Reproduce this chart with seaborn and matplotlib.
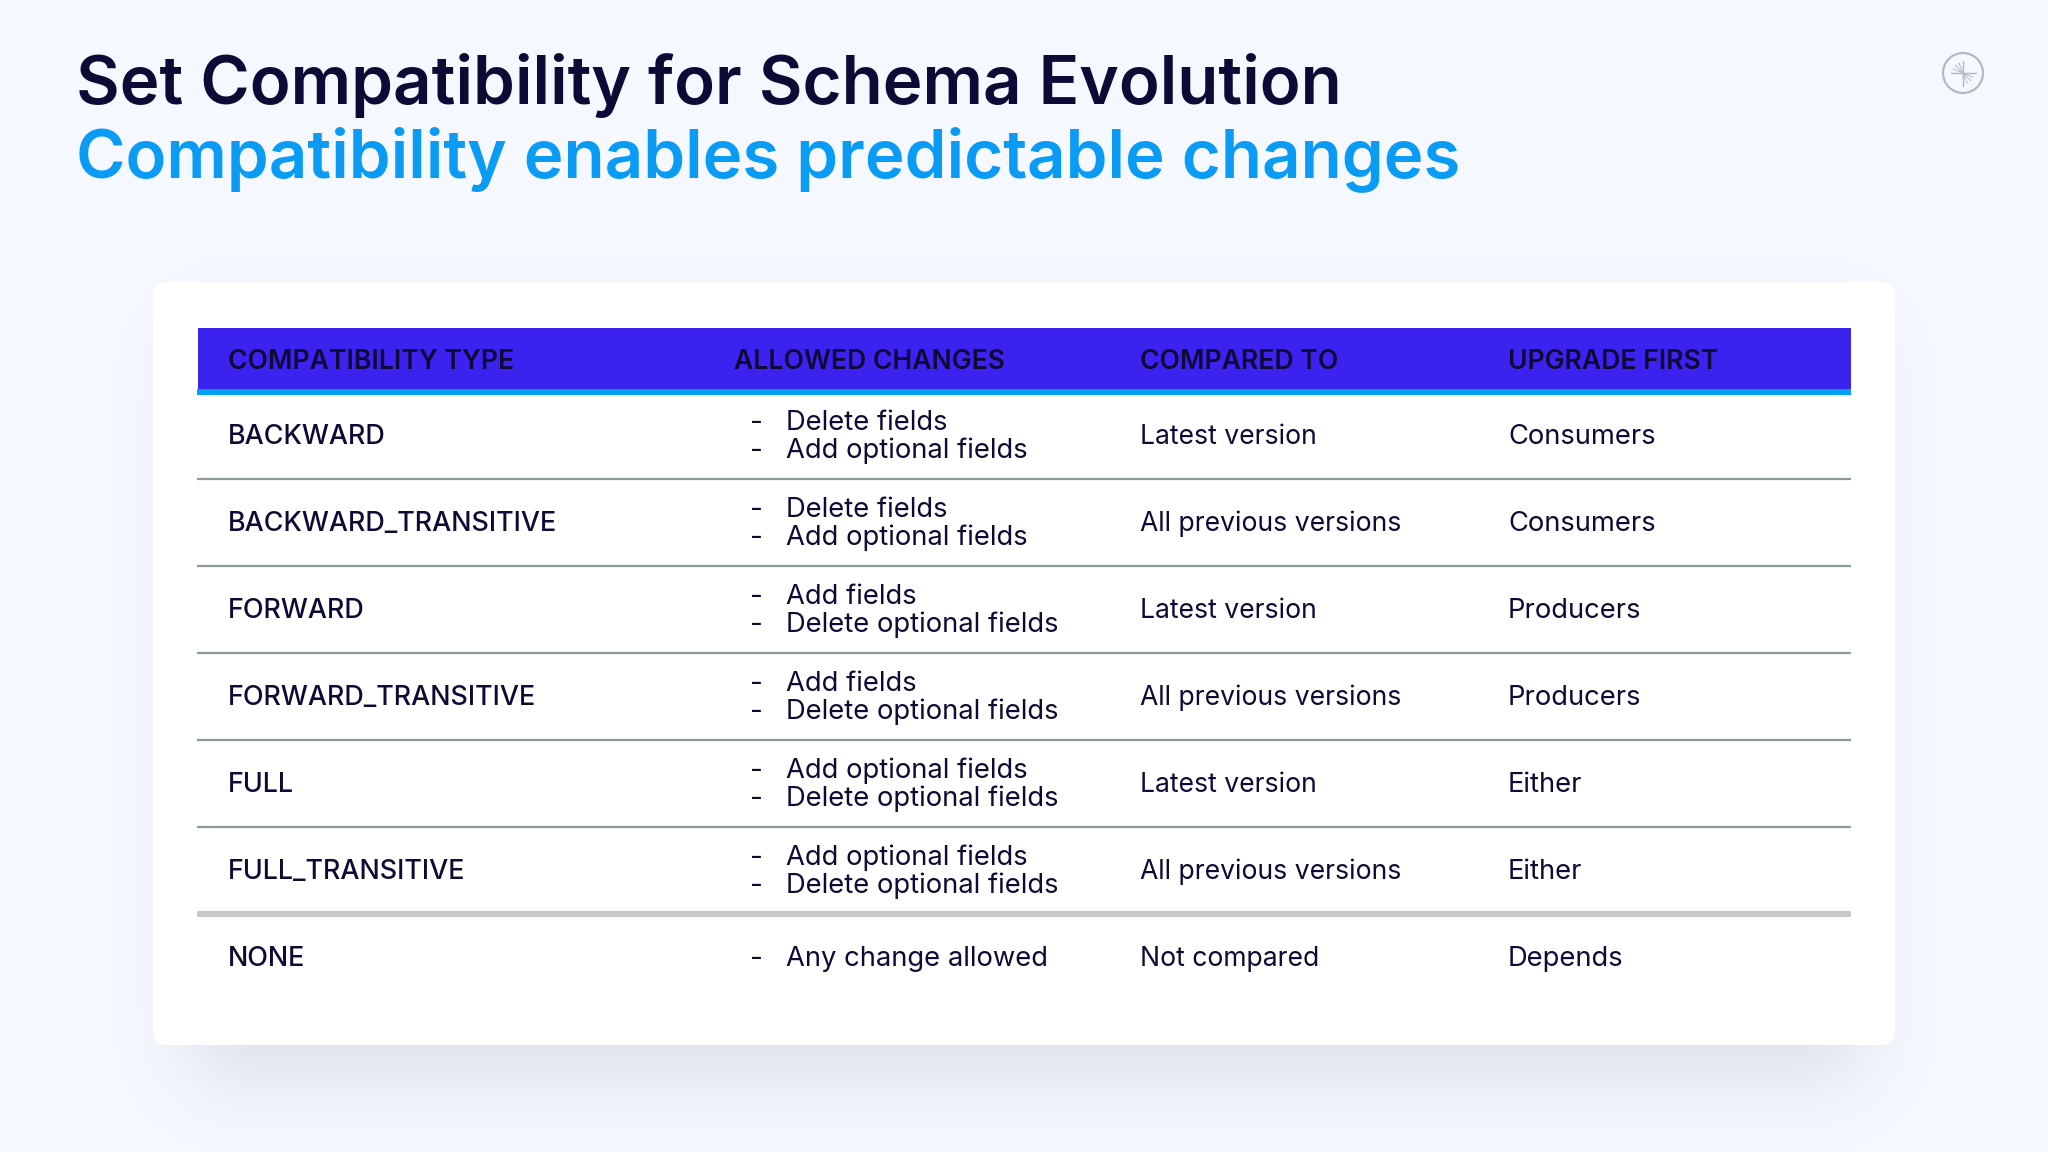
"""Slide: compatibility types table for schema evolution."""

import matplotlib

matplotlib.use("Agg")
import matplotlib.pyplot as plt
import numpy as np
import seaborn as sns
from matplotlib.patches import Circle, FancyBboxPatch, Rectangle

TITLE = "Set Compatibility for Schema Evolution"
SUBTITLE = "Compatibility enables predictable changes"

HEADERS = ["COMPATIBILITY TYPE", "ALLOWED CHANGES", "COMPARED TO", "UPGRADE FIRST"]
TYPES = [
    "BACKWARD",
    "BACKWARD_TRANSITIVE",
    "FORWARD",
    "FORWARD_TRANSITIVE",
    "FULL",
    "FULL_TRANSITIVE",
    "NONE",
]
CHANGES = [
    ["Delete fields", "Add optional fields"],
    ["Delete fields", "Add optional fields"],
    ["Add fields", "Delete optional fields"],
    ["Add fields", "Delete optional fields"],
    ["Add optional fields", "Delete optional fields"],
    ["Add optional fields", "Delete optional fields"],
    ["Any change allowed"],
]
COMPARED = [
    "Latest version",
    "All previous versions",
    "Latest version",
    "All previous versions",
    "Latest version",
    "All previous versions",
    "Not compared",
]
UPGRADE = ["Consumers", "Consumers", "Producers", "Producers", "Either", "Either", "Depends"]

BG = "#f6f8ff"
DARK = "#0c0b36"
BLUE = "#0a9bf5"
PURPLE = "#3c22ee"
FONT = "Inter"

COL_X = [228, 734, 1140, 1508]
ROW_Y = [437, 524, 611, 698, 785, 872, 959]


def gauss_edge(coords, start, stop, sigma):
    # soft box profile, used for the card shadow
    kernel = np.exp(-0.5 * (np.arange(-150, 151) / sigma) ** 2)
    kernel /= kernel.sum()
    box = ((coords >= start) & (coords <= stop)).astype(float)
    return np.convolve(box, kernel, mode="same")


def draw_shadow(ax):
    xs = np.arange(2048)
    ys = np.arange(1152)
    alpha = np.outer(gauss_edge(ys, 330, 1078, 38), gauss_edge(xs, 190, 1860, 38))
    rgba = np.zeros((1152, 2048, 4))
    rgba[..., :3] = matplotlib.colors.to_rgb("#7a7e98")
    rgba[..., 3] = alpha * 0.2
    ax.imshow(rgba, extent=(0, 2048, 1152, 0), zorder=1, aspect="auto")


def draw_logo(ax, cx=1963, cy=73):
    grey = "#b4b7c6"
    ax.add_patch(Circle((cx, cy), 20, fill=False, ec=grey, lw=1.6, zorder=3))
    ax.plot([cx - 12, cx + 13], [cy, cy], color=grey, lw=1.0, zorder=3)
    ax.plot([cx, cx], [cy - 12, cy + 13], color=grey, lw=1.0, zorder=3)
    for deg in [112, 135, 158]:
        rad = np.deg2rad(deg)
        for sign in (1, -1):
            ax.plot(
                [cx, cx + sign * 11 * np.cos(rad)],
                [cy, cy - sign * 11 * np.sin(rad)],
                color=grey,
                lw=0.7,
                zorder=3,
            )


sns.set_theme(style="white")
plt.rcParams["font.family"] = [FONT, "DejaVu Sans"]

fig, ax = plt.subplots(figsize=(20.48, 11.52), dpi=100)
fig.subplots_adjust(0, 0, 1, 1)
fig.patch.set_facecolor(BG)
ax.set_facecolor(BG)
draw_shadow(ax)
ax.set_xlim(0, 2048)
ax.set_ylim(1152, 0)
ax.axis("off")

# card
ax.add_patch(
    FancyBboxPatch(
        (165, 294), 1730 - 12, 751 - 12,
        boxstyle="round,pad=12,rounding_size=14",
        fc="white", ec="none", zorder=2,
    )
)

# titles
ax.text(76, 85, TITLE, fontsize=48.45, fontweight="semibold", color=DARK, va="center", zorder=4)
ax.text(76, 159, SUBTITLE, fontsize=48.45, fontweight="semibold", color=BLUE, va="center", zorder=4)
draw_logo(ax)

# header band
ax.add_patch(Rectangle((198, 328), 1653, 62, fc=PURPLE, ec="none", zorder=3))
ax.add_patch(Rectangle((197, 389), 1654, 6, fc="#00a0f8", ec="none", zorder=3))
for x, label in zip(COL_X, HEADERS):
    ax.text(x, 362, label, fontsize=19.1, fontweight="semibold", color=DARK, va="center", zorder=4)

# row separators
for y in [479, 566, 653, 740, 827]:
    ax.plot([197, 1851], [y, y], color="#8b9c98", lw=1.6, zorder=3, solid_capstyle="butt")
ax.add_patch(Rectangle((197, 911), 1654, 6, fc="#c9c9c9", ec="none", zorder=3))

# rows
for y, kind, changes, compared, upgrade in zip(ROW_Y, TYPES, CHANGES, COMPARED, UPGRADE):
    ax.text(COL_X[0], y, kind, fontsize=19.4, fontweight="medium", color=DARK, va="center", zorder=4)
    ax.text(COL_X[2], y, compared, fontsize=19.1, color=DARK, va="center", zorder=4)
    ax.text(COL_X[3], y, upgrade, fontsize=19.7, color=DARK, va="center", zorder=4)
    offsets = [-14, 14] if len(changes) == 2 else [0]
    for off, change in zip(offsets, changes):
        ax.text(750, y + off, "-", fontsize=20, color=DARK, va="center", zorder=4)
        ax.text(786, y + off, change, fontsize=19.7, color=DARK, va="center", zorder=4)

fig.savefig("out.png", dpi=100, facecolor=BG)
